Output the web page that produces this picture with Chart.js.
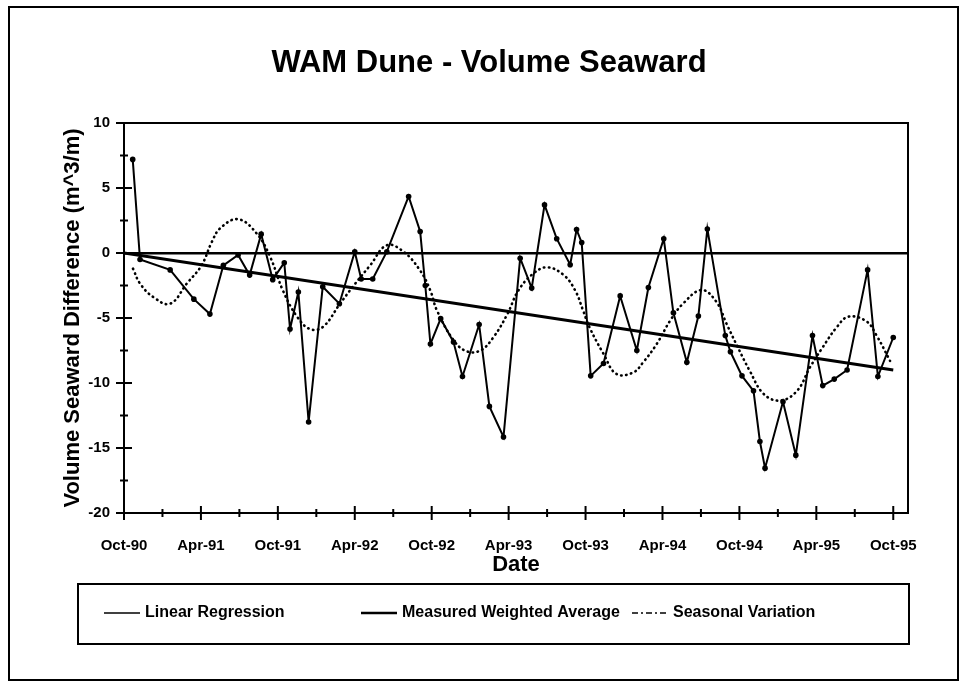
<!DOCTYPE html>
<html>
<head>
<meta charset="utf-8">
<script src="https://cdn.jsdelivr.net/npm/chart.js@4.4.1/dist/chart.umd.min.js"></script>
<style>
  html, body { margin: 0; padding: 0; background: #fff; }
  #wrap { position: relative; width: 964px; height: 683px; }
</style>
</head>
<body>
<div id="wrap"><canvas id="myChart1" width="964" height="683"></canvas></div>
<script>
// x values are months counted from Oct-90
const xTickMonths = [0, 3, 6, 9, 12, 15, 18, 21, 24, 27, 30, 33, 36, 39, 42, 45, 48, 51, 54, 57, 60];
const xTickLabels = ['Oct-90', 'Apr-91', 'Oct-91', 'Apr-92', 'Oct-92', 'Apr-93', 'Oct-93', 'Apr-94', 'Oct-94', 'Apr-95', 'Oct-95'];
const yTickValues = [-20, -17.5, -15, -12.5, -10, -7.5, -5, -2.5, 0, 2.5, 5, 7.5, 10];

const regressionMonths = [0, 60];
const regressionValues = [0, -9.0];

const measuredMonths = [0.68, 1.25, 3.6, 5.45, 6.7, 7.75, 8.9, 9.8, 10.7, 11.6, 12.5, 12.95, 13.6, 14.4, 15.5, 16.8, 18.0, 18.5, 19.4, 20.5,
  22.2, 23.1, 23.5, 23.9, 24.7, 25.7, 26.4, 27.7, 28.5, 29.6, 30.9, 31.8, 32.8, 33.75, 34.8, 35.3, 35.7, 36.4, 37.4, 38.7,
  40.0, 40.9, 42.1, 42.85, 43.9, 44.8, 45.5, 46.9, 47.3, 48.2, 49.1, 49.6, 50.0, 51.4, 52.4, 53.7, 54.5, 55.4, 56.4, 58.0, 58.8, 60.0];
const measuredValues = [7.2, -0.5, -1.3, -3.55, -4.7, -0.95, -0.15, -1.7, 1.45, -2.05, -0.75, -5.85, -3.0, -13.0, -2.6, -3.9, 0.1, -2.0, -2.0, 0.1,
  4.35, 1.65, -2.5, -7.0, -5.05, -6.85, -9.5, -5.5, -11.8, -14.15, -0.4, -2.7, 3.7, 1.1, -0.9, 1.8, 0.8, -9.45, -8.5, -3.3,
  -7.5, -2.65, 1.1, -4.6, -8.4, -4.85, 1.85, -6.35, -7.6, -9.45, -10.6, -14.5, -16.55, -11.45, -15.55, -6.35, -10.2, -9.7, -9.0, -1.3, -9.5, -6.5];

const seasonalMonths = [0.7, 1.25, 2.3, 3.6, 4.9, 6.05, 6.85, 7.5, 8.9, 10.35, 11.4, 12.4, 13.5, 14.5, 15.5, 16.85, 18.0, 19.2, 20.5, 21.8,
  23.1, 23.9, 24.4, 25.7, 26.7, 27.8, 28.8, 29.9, 30.75, 31.9, 33.0, 34.3, 35.2, 35.8, 36.3, 37.4, 38.4, 39.7, 40.5, 41.55,
  42.6, 43.6, 45.05, 46.2, 47.0, 47.8, 48.8, 49.9, 51.2, 52.5, 53.5, 54.5, 55.6, 56.5, 57.9, 58.7, 59.75];
const seasonalValues = [-1.2, -2.35, -3.4, -3.9, -2.35, -0.95, 0.85, 1.9, 2.6, 1.5, -0.3, -2.9, -4.9, -5.85, -5.7, -3.9, -2.4, -0.95, 0.6, 0.1,
  -1.35, -2.9, -4.4, -6.7, -7.55, -7.5, -6.5, -4.7, -2.9, -1.6, -1.1, -1.7, -2.9, -4.4, -5.7, -7.75, -9.3, -9.2, -8.4, -7.0,
  -5.2, -3.9, -2.85, -3.75, -5.45, -7.1, -9.05, -10.85, -11.35, -10.6, -8.8, -7.25, -5.7, -4.9, -5.25, -6.35, -8.3];

const toPoints = (xs, ys) => xs.map((x, i) => ({ x: x, y: ys[i] }));
const boldFont = "'Liberation Sans', Arial, sans-serif";

// frame, tick marks, title and the boxed legend
const decorations = {
  id: 'decorations',
  afterDraw(chart) {
    const ctx = chart.ctx;
    const area = chart.chartArea;
    const xs = chart.scales.x;
    const ys = chart.scales.y;
    ctx.save();
    ctx.strokeStyle = '#000';

    // outer page frame
    ctx.lineWidth = 2;
    ctx.strokeRect(9, 7, 949, 673);

    // plot frame
    ctx.lineWidth = 2;
    ctx.strokeRect(area.left, area.top, area.right - area.left, area.bottom - area.top);

    // y ticks cross the axis
    ys.ticks.forEach(t => {
      const py = ys.getPixelForValue(t.value);
      const half = t.value % 5 === 0 ? 8 : 4;
      ctx.beginPath();
      ctx.moveTo(area.left - half, py);
      ctx.lineTo(area.left + half, py);
      ctx.stroke();
    });
    // x ticks cross the axis
    xs.ticks.forEach(t => {
      const px = xs.getPixelForValue(t.value);
      const half = t.value % 6 === 0 ? 7 : 4;
      ctx.beginPath();
      ctx.moveTo(px, area.bottom - half);
      ctx.lineTo(px, area.bottom + half);
      ctx.stroke();
    });

    // title
    ctx.fillStyle = '#000';
    ctx.font = "bold 31px " + boldFont;
    ctx.textAlign = 'center';
    ctx.textBaseline = 'alphabetic';
    ctx.fillText('WAM Dune - Volume Seaward', 489, 72);

    // legend box
    ctx.lineWidth = 2;
    ctx.strokeRect(78, 584, 831, 60);
    const legendX = [104, 361, 632];
    const legendY = 613;
    ctx.font = "bold 16px " + boldFont;
    ctx.textAlign = 'left';
    ctx.textBaseline = 'middle';
    chart.data.datasets.forEach((ds, i) => {
      const x0 = legendX[i];
      ctx.beginPath();
      ctx.lineWidth = i === 1 ? 2.5 : 1.5;
      ctx.setLineDash(i === 2 ? [6, 3, 2, 3] : []);
      ctx.moveTo(x0, legendY);
      ctx.lineTo(x0 + 36, legendY);
      ctx.stroke();
      ctx.setLineDash([]);
      ctx.fillText(ds.label, x0 + 41, legendY);
    });
    ctx.restore();
  }
};

const ctx1 = document.getElementById('myChart1').getContext('2d');
const myChart1 = new Chart(ctx1, {
  type: 'line',
  data: {
    datasets: [
      {
        label: 'Linear Regression',
        data: toPoints(regressionMonths, regressionValues),
        borderColor: '#000',
        borderWidth: 3,
        pointRadius: 0,
        fill: false,
      },
      {
        label: 'Measured Weighted Average',
        data: toPoints(measuredMonths, measuredValues),
        borderColor: '#000',
        backgroundColor: '#000',
        borderWidth: 2,
        pointRadius: 2.8,
        pointBorderWidth: 0,
        lineTension: 0,
        fill: false,
      },
      {
        label: 'Seasonal Variation',
        data: toPoints(seasonalMonths, seasonalValues),
        borderColor: '#000',
        borderWidth: 2.6,
        borderDash: [0.5, 4.5],
        borderCapStyle: 'round',
        pointRadius: 0,
        tension: 0.4,
        fill: false,
      },
    ],
  },
  options: {
    responsive: false,
    animation: false,
    layout: { padding: { top: 123, left: 60, right: 56, bottom: 100 } },
    plugins: {
      legend: { display: false },
      title: { display: false },
      tooltip: { enabled: false },
    },
    scales: {
      x: {
        type: 'linear',
        min: 0,
        max: 61.15,
        afterBuildTicks: (scale) => { scale.ticks = xTickMonths.map(v => ({ value: v })); },
        afterFit: (scale) => { scale.height = 70; },
        grid: { display: false },
        border: { display: false },
        ticks: {
          autoSkip: false,
          maxRotation: 0,
          padding: 16,
          color: '#000',
          font: { family: boldFont, size: 15, weight: 'bold' },
          callback: (v) => (v % 6 === 0 ? xTickLabels[v / 6] : ''),
        },
        title: {
          display: true,
          text: 'Date',
          color: '#000',
          font: { family: boldFont, size: 22, weight: 'bold' },
          padding: { top: 0, bottom: 5 },
        },
      },
      y: {
        min: -20,
        max: 10,
        afterBuildTicks: (scale) => { scale.ticks = yTickValues.map(v => ({ value: v })); },
        afterFit: (scale) => { scale.width = 64; },
        grid: {
          drawTicks: false,
          lineWidth: 2.5,
          color: (c) => (c.tick && c.tick.value === 0 ? '#000' : 'rgba(0,0,0,0)'),
        },
        border: { display: false },
        ticks: {
          padding: 14,
          color: '#000',
          font: { family: boldFont, size: 15, weight: 'bold' },
          callback: (v) => (v % 5 === 0 ? String(v) : ''),
        },
        title: {
          display: true,
          text: 'Volume Seaward Difference (m^3/m)',
          color: '#000',
          font: { family: boldFont, size: 22, weight: 'bold' },
          padding: { top: 0, bottom: 0 },
        },
      },
    },
  },
  plugins: [decorations],
});
</script>
</body>
</html>
